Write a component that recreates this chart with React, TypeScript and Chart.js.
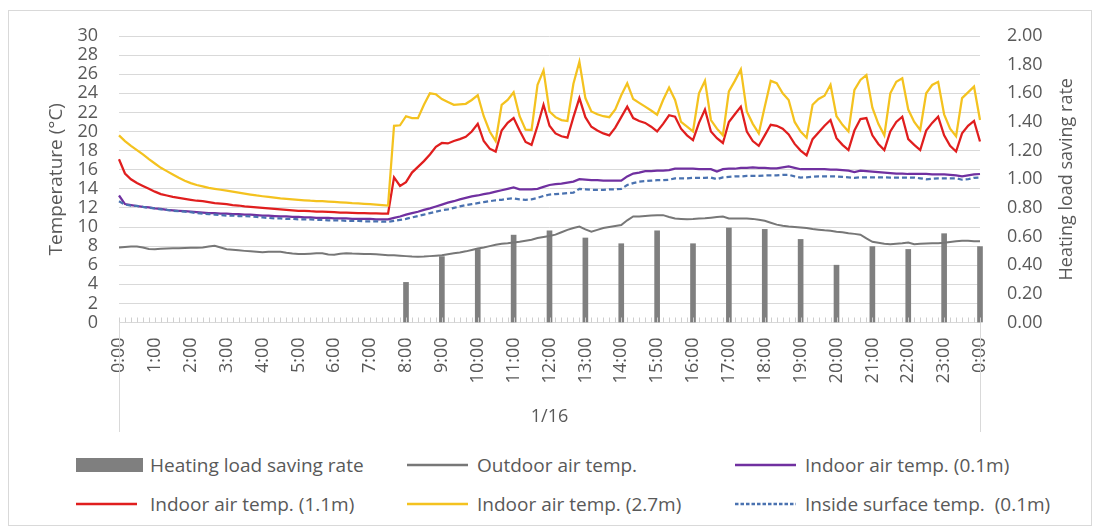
import React, { useEffect, useRef } from "react";
import { Chart, registerables } from "chart.js";

Chart.register(...registerables);

// ---------- DATA ----------
// x categories: 10-minute steps of 1/16, 0:00 .. 24:00 (145 points)
const hourTickLabels = [
  "0:00", "1:00", "2:00", "3:00", "4:00", "5:00", "6:00", "7:00", "8:00", "9:00",
  "10:00", "11:00", "12:00", "13:00", "14:00", "15:00", "16:00", "17:00", "18:00",
  "19:00", "20:00", "21:00", "22:00", "23:00", "0:00",
];
const minuteSteps = ["00", "10", "20", "30", "40", "50"];
const dayLabel = "1/16";

// Heating load saving rate (right axis), at whole hours
const rateHours = [8, 9, 10, 11, 12, 13, 14, 15, 16, 17, 18, 19, 20, 21, 22, 23, 24];
const rateValues = [0.28, 0.46, 0.51, 0.61, 0.64, 0.59, 0.55, 0.64, 0.55, 0.66, 0.65, 0.58, 0.4, 0.53, 0.51, 0.62, 0.53];

const outdoorTemp = [
  7.85, 7.9, 7.95, 7.95, 7.85, 7.7, 7.68, 7.72, 7.75, 7.78,
  7.78, 7.8, 7.82, 7.84, 7.85, 7.95, 8.03, 7.85, 7.68, 7.62,
  7.56, 7.5, 7.45, 7.4, 7.35, 7.4, 7.42, 7.4, 7.3, 7.22,
  7.18, 7.16, 7.2, 7.25, 7.26, 7.12, 7.1, 7.2, 7.26, 7.22,
  7.2, 7.18, 7.16, 7.15, 7.1, 7.05, 7.05, 7.0, 6.95, 6.9,
  6.88, 6.9, 6.95, 7.0, 7.05, 7.15, 7.25, 7.33, 7.45, 7.6,
  7.75, 7.85, 8.0, 8.15, 8.25, 8.3, 8.38, 8.45, 8.55, 8.66,
  8.85, 8.95, 9.05, 9.2, 9.45, 9.7, 9.9, 10.05, 9.75, 9.5,
  9.7, 9.9, 10.0, 10.1, 10.2, 10.7, 11.1, 11.1, 11.15, 11.2,
  11.22, 11.24, 11.05, 10.89, 10.85, 10.82, 10.85, 10.9, 10.92, 10.98,
  11.05, 11.1, 10.89, 10.89, 10.89, 10.89, 10.85, 10.75, 10.65, 10.45,
  10.25, 10.12, 10.05, 10.0, 9.95, 9.9, 9.8, 9.72, 9.65, 9.6,
  9.5, 9.45, 9.35, 9.28, 9.2, 8.8, 8.45, 8.35, 8.25, 8.2,
  8.25, 8.3, 8.38, 8.2, 8.25, 8.28, 8.3, 8.31, 8.35, 8.42,
  8.5, 8.55, 8.55, 8.52, 8.5,
];

const indoor01 = [
  13.3, 12.4, 12.3, 12.2, 12.1, 12.05, 11.95, 11.9, 11.8, 11.75,
  11.7, 11.65, 11.6, 11.55, 11.5, 11.45, 11.45, 11.4, 11.4, 11.35,
  11.35, 11.3, 11.3, 11.25, 11.2, 11.2, 11.15, 11.1, 11.1, 11.05,
  11.05, 11.0, 11.0, 10.95, 10.95, 10.95, 10.9, 10.9, 10.9, 10.85,
  10.85, 10.85, 10.85, 10.8, 10.8, 10.8, 10.95, 11.1, 11.3, 11.45,
  11.6, 11.8, 11.95, 12.15, 12.35, 12.55, 12.7, 12.9, 13.05, 13.2,
  13.3, 13.45, 13.55, 13.7, 13.85, 14.0, 14.15, 13.95, 13.95, 13.95,
  14.0, 14.2, 14.4, 14.5, 14.55, 14.65, 14.75, 15.0, 14.95, 14.9,
  14.9, 14.85, 14.85, 14.85, 14.85, 15.3, 15.6, 15.7, 15.85, 15.85,
  15.9, 15.9, 15.95, 16.1, 16.1, 16.1, 16.1, 16.05, 16.05, 16.05,
  15.8, 16.05, 16.1, 16.1, 16.2, 16.2, 16.25, 16.2, 16.2, 16.15,
  16.15, 16.25, 16.35, 16.2, 16.05, 16.05, 16.05, 16.05, 16.05, 16.0,
  16.0, 15.95, 15.9, 15.75, 15.9, 15.85, 15.8, 15.75, 15.7, 15.65,
  15.6, 15.6, 15.55, 15.55, 15.55, 15.55, 15.5, 15.5, 15.5, 15.45,
  15.4, 15.3, 15.4, 15.5, 15.55,
];

const indoor11 = [
  17.1, 15.6, 15.0, 14.6, 14.3, 14.0, 13.7, 13.45, 13.3, 13.15,
  13.05, 12.95, 12.85, 12.75, 12.7, 12.6, 12.5, 12.45, 12.4, 12.3,
  12.25, 12.15, 12.1, 12.05, 12.0, 11.95, 11.9, 11.85, 11.8, 11.75,
  11.7, 11.7, 11.65, 11.62, 11.6, 11.58, 11.55, 11.5, 11.5, 11.48,
  11.45, 11.45, 11.43, 11.42, 11.4, 11.4, 15.2, 14.3, 14.7, 15.7,
  16.3, 16.9, 17.6, 18.4, 18.8, 18.75, 19.0, 19.2, 19.45, 20.0,
  20.8, 19.0, 18.2, 17.9, 20.1, 20.9, 21.4, 20.1, 18.9, 18.6,
  20.6, 22.8, 20.6, 19.8, 19.5, 19.35, 21.5, 23.5, 21.5, 20.5,
  20.1, 19.8, 19.6, 20.4, 21.5, 22.6, 21.4, 21.1, 20.9, 20.5,
  20.0, 20.8, 21.7, 21.55, 20.3, 19.6, 19.1, 20.9, 22.3, 20.0,
  19.3, 18.8, 21.0, 21.8, 22.6, 20.0, 19.0, 18.5, 19.6, 20.7,
  20.6, 20.3, 19.7, 18.7, 18.0, 17.5, 19.2, 19.9, 20.6, 21.2,
  19.3, 18.6, 18.06, 20.1, 21.3, 21.4, 19.6, 18.7, 18.06, 20.0,
  21.0, 21.55, 19.2, 18.6, 18.06, 20.1, 20.9, 21.55, 19.6, 18.5,
  17.9, 19.8, 20.6, 21.1, 18.95,
];

const indoor27 = [
  19.6, 19.0, 18.5, 18.05, 17.6, 17.1, 16.65, 16.2, 15.85, 15.5,
  15.15, 14.85, 14.6, 14.4, 14.25, 14.1, 14.0, 13.9, 13.8, 13.7,
  13.6, 13.5, 13.4, 13.3, 13.22, 13.15, 13.08, 13.0, 12.95, 12.9,
  12.85, 12.8, 12.75, 12.72, 12.7, 12.66, 12.62, 12.58, 12.55, 12.5,
  12.47, 12.43, 12.4, 12.35, 12.3, 12.25, 20.6, 20.65, 21.6, 21.4,
  21.4, 22.8, 24.0, 23.9, 23.4, 23.1, 22.8, 22.85, 22.9, 23.3,
  23.8, 21.6, 20.0, 19.0, 22.8, 23.3, 24.1, 21.6, 20.2, 20.16,
  24.9, 26.4, 22.1, 21.5, 21.2, 21.1, 25.0, 27.3, 23.5, 22.1,
  21.8, 21.6, 21.5, 22.3, 23.8, 25.05, 23.4, 23.0, 22.6, 22.2,
  21.75, 23.3, 24.6, 23.3, 21.0, 20.5, 20.0, 24.0, 25.3, 21.2,
  20.3, 19.6, 24.2, 25.3, 26.5, 22.1, 20.8, 19.8, 22.6, 25.3,
  25.05, 24.0, 23.3, 21.0, 20.0, 19.35, 22.8, 23.4, 23.75, 24.9,
  21.6, 20.7, 20.0, 24.35, 25.4, 25.9, 22.5, 20.8, 19.6, 24.0,
  25.2, 25.57, 22.3, 21.0, 20.16, 24.0, 24.87, 25.2, 21.8, 20.3,
  19.5, 23.5, 24.1, 24.7, 21.2,
];

const surface01 = [
  12.7, 12.35, 12.25, 12.2, 12.1, 12.0, 11.95, 11.85, 11.8, 11.7,
  11.65, 11.6, 11.55, 11.45, 11.4, 11.35, 11.3, 11.25, 11.2, 11.2,
  11.15, 11.15, 11.1, 11.05, 11.0, 10.95, 10.9, 10.9, 10.85, 10.85,
  10.8, 10.8, 10.8, 10.75, 10.75, 10.7, 10.7, 10.7, 10.65, 10.65,
  10.65, 10.6, 10.6, 10.6, 10.55, 10.55, 10.65, 10.75, 10.85, 11.0,
  11.15, 11.3, 11.45, 11.6, 11.75, 11.85, 12.0, 12.15, 12.3, 12.4,
  12.5, 12.6, 12.7, 12.8, 12.85, 12.95, 13.0, 12.9, 12.85, 12.9,
  13.05, 13.25, 13.4, 13.45, 13.5, 13.55, 13.6, 14.0, 13.95, 13.9,
  13.9, 13.9, 13.95, 13.95, 14.0, 14.4, 14.6, 14.75, 14.8, 14.85,
  14.9, 14.9, 14.95, 15.1, 15.1, 15.1, 15.15, 15.15, 15.15, 15.18,
  15.0, 15.2, 15.25, 15.3, 15.3, 15.35, 15.35, 15.35, 15.4, 15.4,
  15.4, 15.45, 15.46, 15.3, 15.18, 15.2, 15.25, 15.3, 15.3, 15.3,
  15.3, 15.25, 15.2, 15.15, 15.2, 15.2, 15.2, 15.2, 15.2, 15.18,
  15.18, 15.18, 15.18, 15.18, 15.1, 15.0, 15.05, 15.1, 15.1, 15.1,
  15.1, 14.95, 15.0, 15.15, 15.18,
];

// ---------- STYLE ----------
const FONT = "'Open Sans', 'DejaVu Sans', sans-serif";
const TEXT = "#595959";
const GRID = "#d9d9d9";
const C_BAR = "#7f7f7f";
const C_OUT = "#777777";
const C_01 = "#7030a0";
const C_11 = "#e01e1e";
const C_27 = "#f4c21f";
const C_SURF = "#4a72b0";

const categories: string[] = [];
for (let h = 0; h < 24; h++) for (const m of minuteSteps) categories.push(`${h}:${m}`);
categories.push("24:00");

const rateData: (number | null)[] = categories.map(() => null);
rateHours.forEach((h, k) => {
  rateData[h * 6] = rateValues[k];
});

const legendItems = [
  { label: "Heating load saving rate", kind: "bar", color: C_BAR, col: 0, row: 0 },
  { label: "Outdoor air temp.", kind: "line", color: C_OUT, col: 1, row: 0 },
  { label: "Indoor air temp. (0.1m)", kind: "line", color: C_01, col: 2, row: 0 },
  { label: "Indoor air temp. (1.1m)", kind: "line", color: C_11, col: 0, row: 1 },
  { label: "Indoor air temp. (2.7m)", kind: "line", color: C_27, col: 1, row: 1 },
  { label: "Inside surface temp.  (0.1m)", kind: "dash", color: C_SURF, col: 2, row: 1 },
];
const legendColX = [67, 398, 726];
const legendTextX = [141, 468, 796];
const legendRowY = [454, 493];

const CANVAS_W = 1082;
const CANVAS_H = 440;
const AREA_RIGHT = 971;
const AREA_LEFT = 110;
const AREA_TOP = 25;
const AREA_BOTTOM = 311.5;
const BRACKET_BOTTOM = 421;

const decorPlugin = {
  id: "decor",
  afterDraw(chart: any) {
    const { ctx, chartArea } = chart;
    const xs = chart.scales.x;
    ctx.save();
    ctx.strokeStyle = "#cfcfcf";
    ctx.lineWidth = 1;
    ctx.beginPath();
    for (let i = 0; i < categories.length; i++) {
      const px = Math.round(xs.getPixelForValue(i)) + 0.5;
      ctx.moveTo(px, chartArea.bottom - 5);
      ctx.lineTo(px, chartArea.bottom);
    }
    ctx.stroke();
    ctx.strokeStyle = GRID;
    ctx.beginPath();
    const l = Math.round(chartArea.left) + 0.5;
    const r = Math.round(chartArea.right) + 0.5;
    ctx.moveTo(l, chartArea.bottom);
    ctx.lineTo(l, BRACKET_BOTTOM);
    ctx.moveTo(r, chartArea.bottom);
    ctx.lineTo(r, BRACKET_BOTTOM);
    ctx.stroke();
    // right axis title (reads bottom-to-top)
    ctx.fillStyle = TEXT;
    ctx.font = `18px ${FONT}`;
    ctx.textAlign = "center";
    ctx.textBaseline = "middle";
    ctx.translate(1058, (chartArea.top + chartArea.bottom) / 2);
    ctx.rotate(-Math.PI / 2);
    ctx.fillText("Heating load saving rate", 0, 0);
    ctx.restore();
  },
};

function ChartCanvas() {
  const ref = useRef<HTMLCanvasElement | null>(null);
  useEffect(() => {
    if (!ref.current) return;
    const lineBase = {
      type: "line" as const,
      yAxisID: "y",
      pointRadius: 0,
      pointHoverRadius: 0,
      tension: 0,
      borderWidth: 2.25,
      fill: false,
    };
    const chart = new Chart(ref.current, {
      type: "bar",
      data: {
        labels: categories,
        datasets: [
          {
            type: "bar",
            label: "Heating load saving rate",
            data: rateData,
            yAxisID: "y1",
            backgroundColor: C_BAR,
            barThickness: 5,
            order: 10,
            clip: false,
          } as any,
          { ...lineBase, label: "Outdoor air temp.", data: outdoorTemp, borderColor: C_OUT, borderWidth: 2, order: 5 },
          { ...lineBase, label: "Indoor air temp. (0.1m)", data: indoor01, borderColor: C_01, order: 4 },
          { ...lineBase, label: "Indoor air temp. (1.1m)", data: indoor11, borderColor: C_11, order: 3 },
          { ...lineBase, label: "Indoor air temp. (2.7m)", data: indoor27, borderColor: C_27, order: 2 },
          { ...lineBase, label: "Inside surface temp.  (0.1m)", data: surface01, borderColor: C_SURF, borderDash: [5, 3], order: 1 },
        ],
      },
      options: {
        animation: false,
        responsive: false,
        maintainAspectRatio: false,
        layout: { padding: { top: AREA_TOP, left: 0, right: 0, bottom: 0 } },
        plugins: { legend: { display: false }, tooltip: { enabled: false }, title: { display: false } },
        scales: {
          x: {
            type: "category",
            offset: false,
            grid: { display: false, drawTicks: false },
            border: { display: true, color: GRID },
            ticks: {
              autoSkip: false,
              minRotation: 90,
              maxRotation: 90,
              padding: 15,
              color: TEXT,
              font: { family: FONT, size: 18 },
              callback: (_v: any, i: number) => (i % 6 === 0 ? hourTickLabels[i / 6] : ""),
            },
            title: {
              display: true,
              text: dayLabel,
              color: TEXT,
              font: { family: FONT, size: 18 },
              padding: { top: 0, bottom: 23 },
            },
            afterFit: (s: any) => {
              s.height = CANVAS_H - AREA_BOTTOM;
            },
          },
          y: {
            position: "left",
            min: 0,
            max: 30,
            grid: { color: GRID, drawTicks: false, lineWidth: 1 },
            border: { display: false },
            ticks: { stepSize: 2, autoSkip: false, padding: 21, color: TEXT, font: { family: FONT, size: 18 } },
            title: {
              display: true,
              text: "Temperature (°C)",
              color: TEXT,
              font: { family: FONT, size: 19 },
              padding: { top: 36, bottom: 0 },
            },
            afterFit: (s: any) => {
              s.width = AREA_LEFT;
              s.paddingTop = 0;
              s.paddingBottom = 0;
            },
          },
          y1: {
            position: "right",
            min: 0,
            max: 2,
            grid: { drawOnChartArea: false, drawTicks: false },
            border: { display: false },
            ticks: {
              stepSize: 0.2,
              autoSkip: false,
              padding: 27,
              color: TEXT,
              font: { family: FONT, size: 18 },
              callback: (v: any) => Number(v).toFixed(2),
            },
            afterFit: (s: any) => {
              s.width = CANVAS_W - AREA_RIGHT;
              s.paddingTop = 0;
              s.paddingBottom = 0;
            },
          },
        },
      } as any,
      plugins: [decorPlugin],
    });
    return () => chart.destroy();
  }, []);
  return <canvas ref={ref} width={CANVAS_W} height={CANVAS_H} style={{ position: "absolute", left: 0, top: 0, width: CANVAS_W, height: CANVAS_H }} />;
}

function Swatch({ kind, color }: { kind: string; color: string }) {
  if (kind === "bar") {
    return <div style={{ width: 67, height: 14, background: color }} />;
  }
  return (
    <svg width={61} height={6} style={{ display: "block" }}>
      <line
        x1={0}
        y1={3}
        x2={61}
        y2={3}
        stroke={color}
        strokeWidth={2.5}
        strokeDasharray={kind === "dash" ? "3.5 2" : undefined}
      />
    </svg>
  );
}

export default function App() {
  return (
    <div style={{ paddingTop: 2 }}>
      <div
        style={{
          position: "relative",
          width: 1084,
          height: 516,
          border: `1px solid ${GRID}`,
          boxSizing: "border-box",
          background: "#fff",
          fontFamily: FONT,
        }}
      >
        <ChartCanvas />
        {legendItems.map((it) => (
          <React.Fragment key={it.label}>
            <div
              style={{
                position: "absolute",
                left: legendColX[it.col],
                top: legendRowY[it.row],
                transform: "translateY(-50%)",
              }}
            >
              <Swatch kind={it.kind} color={it.color} />
            </div>
            <div
              style={{
                position: "absolute",
                left: legendTextX[it.col],
                top: legendRowY[it.row],
                transform: "translateY(-50%)",
                fontSize: 19,
                color: TEXT,
                whiteSpace: "pre",
                lineHeight: "24px",
              }}
            >
              {it.label}
            </div>
          </React.Fragment>
        ))}
      </div>
    </div>
  );
}
